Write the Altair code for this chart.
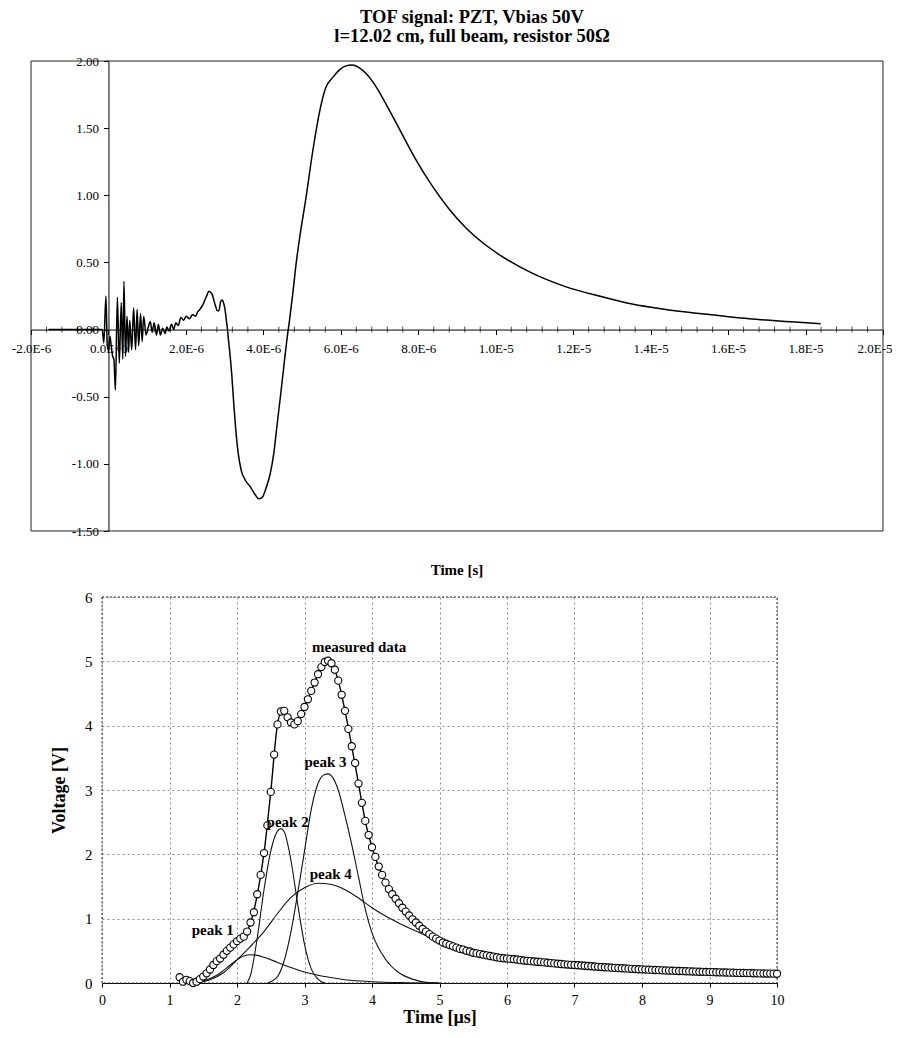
import altair as alt
import pandas as pd

FONT = "Liberation Serif"

# ---------------- top chart: TOF signal (time in microseconds, voltage in V)
tof_time_us = [
    -1.55, -0.5, -0.2, -0.16, -0.12, -0.065, -0.03, 0.0, 0.04, 0.07,
    0.11, 0.14, 0.18, 0.23, 0.28, 0.33, 0.37, 0.40, 0.44, 0.48,
    0.52, 0.55, 0.60, 0.65, 0.70, 0.74, 0.78, 0.83, 0.87, 0.91,
    0.97, 1.03, 1.08, 1.13, 1.18, 1.24, 1.29, 1.34, 1.40, 1.46,
    1.51, 1.56, 1.63, 1.68, 1.74, 1.80, 1.87, 1.94, 2.01, 2.09,
    2.17, 2.25, 2.30, 2.36, 2.43, 2.49, 2.55, 2.59, 2.63, 2.68,
    2.73, 2.77, 2.81, 2.85, 2.90, 2.94, 2.98, 3.01, 3.04, 3.07,
    3.10, 3.13, 3.18, 3.24, 3.28, 3.35, 3.43, 3.53, 3.66, 3.79,
    3.88, 3.97, 4.07, 4.18, 4.27, 4.35, 4.44, 4.53, 4.61, 4.68,
    4.76, 4.85, 4.93, 5.10, 5.26, 5.45, 5.61, 5.80, 5.95, 6.10,
    6.30, 6.45, 6.64, 6.85, 7.07, 7.50, 7.93, 8.36, 8.79, 9.22,
    9.65, 10.08, 10.94, 11.80, 12.66, 13.52, 14.39, 15.25, 16.54, 17.83,
    18.39,
]
tof_volt = [
    0.0, 0.0, 0.0, 0.0, -0.10, 0.25, -0.12, -0.15, -0.05, -0.12,
    -0.20, -0.22, -0.45, 0.24, -0.25, 0.20, -0.22, 0.36, -0.20, 0.10,
    -0.17, 0.07, -0.15, 0.16, -0.15, 0.15, -0.12, 0.12, -0.09, 0.10,
    -0.04, 0.02, 0.06, -0.02, 0.05, -0.04, 0.04, -0.04, 0.01, -0.03,
    0.02, -0.01, 0.04, 0.00, 0.05, 0.03, 0.09, 0.07, 0.10, 0.08,
    0.11, 0.10, 0.13, 0.15, 0.18, 0.22, 0.26, 0.285, 0.28, 0.26,
    0.21, 0.17, 0.14, 0.14, 0.21, 0.22, 0.19, 0.15, 0.08, 0.01,
    -0.08, -0.16, -0.32, -0.57, -0.72, -0.92, -1.05, -1.12, -1.17, -1.23,
    -1.26, -1.25, -1.18, -1.07, -0.92, -0.72, -0.50, -0.27, -0.07, 0.08,
    0.27, 0.50, 0.67, 0.98, 1.30, 1.62, 1.80, 1.88, 1.93, 1.96,
    1.97, 1.955, 1.91, 1.835, 1.73, 1.50, 1.27, 1.07, 0.90, 0.76,
    0.65, 0.56, 0.42, 0.32, 0.25, 0.19, 0.15, 0.12, 0.08, 0.055,
    0.043,
]
top_x_ticks_us = [-2, 0, 2, 4, 6, 8, 10, 12, 14, 16, 18, 20]
top_y_ticks = [-1.5, -1.0, -0.5, 0.0, 0.5, 1.0, 1.5, 2.0]
top_minor_us = [round(-2 + 0.4 * i, 2) for i in range(56) if i % 5 != 0]

# ---------------- bottom chart: peak decomposition
meas_start_us = 1.15
meas_step_us = 0.05
meas_volt = [
    0.09, 0.02, 0.05, 0.03, 0.00, 0.02, 0.06, 0.10, 0.15, 0.21, 0.28, 0.34, 0.38, 0.44, 0.50, 0.55, 0.60,
    0.65, 0.69, 0.72, 0.80, 0.94, 1.10, 1.38, 1.68, 2.02, 2.45, 2.97, 3.55, 4.02, 4.22, 4.23, 4.13, 4.05, 4.02, 4.07, 4.18,
    4.29, 4.41, 4.54, 4.67, 4.80, 4.91, 4.99, 5.01, 4.97, 4.87, 4.70, 4.48, 4.23, 3.95, 3.68, 3.42, 3.10, 2.80, 2.52, 2.30,
    2.11, 1.96, 1.81, 1.68, 1.56, 1.46, 1.38, 1.31, 1.24, 1.17, 1.11, 1.05, 0.99, 0.94, 0.89, 0.84, 0.80, 0.76, 0.72, 0.69,
    0.66, 0.63, 0.61, 0.59, 0.57, 0.55, 0.53, 0.52, 0.50, 0.49, 0.47, 0.46, 0.45, 0.44, 0.43, 0.42, 0.41, 0.40, 0.39, 0.385,
    0.38, 0.375, 0.37, 0.365, 0.355, 0.35, 0.345, 0.34, 0.335, 0.33, 0.325, 0.32, 0.315, 0.31, 0.305, 0.30, 0.295, 0.29, 0.287, 0.283,
    0.28, 0.276, 0.272, 0.268, 0.264, 0.26, 0.256, 0.252, 0.248, 0.245, 0.242, 0.238, 0.235, 0.232, 0.229, 0.226, 0.223, 0.22, 0.217, 0.214,
    0.212, 0.209, 0.207, 0.204, 0.202, 0.20, 0.197, 0.195, 0.193, 0.191, 0.189, 0.187, 0.185, 0.183, 0.181, 0.179, 0.177, 0.175, 0.174, 0.172,
    0.17, 0.169, 0.167, 0.166, 0.164, 0.163, 0.161, 0.16, 0.158, 0.157, 0.156, 0.154, 0.153, 0.152, 0.151, 0.149, 0.148, 0.147, 0.146, 0.145,
    0.144,
]
meas_time_us = [round(meas_start_us + meas_step_us * i, 2) for i in range(len(meas_volt))]

fit_time_us = [1.35, 1.5, 1.6, 1.7, 1.8, 1.9, 2.0, 2.1, 2.2, 2.3, 2.4, 2.5, 2.6, 2.65, 2.7, 2.75, 2.8, 2.85, 2.9,
               3.0, 3.1, 3.2, 3.3, 3.35, 3.4, 3.5, 3.6, 3.7, 3.8, 3.9, 4.0, 4.2, 4.4, 4.6, 4.8,
               5.0, 5.5, 6.0, 7.0, 8.0, 9.0, 10.0]
fit_volt = [0.0, 0.07, 0.16, 0.30, 0.44, 0.55, 0.65, 0.73, 0.93, 1.37, 2.02, 2.97, 4.02, 4.21, 4.22, 4.13, 4.05, 4.02, 4.07,
            4.29, 4.54, 4.80, 4.99, 5.01, 4.97, 4.70, 4.23, 3.68, 3.10, 2.52, 2.11, 1.56, 1.24, 0.99, 0.80,
            0.66, 0.47, 0.38, 0.28, 0.212, 0.17, 0.144]

peak1_time_us = [1.3, 1.5, 1.7, 1.9, 2.0, 2.1, 2.2, 2.3, 2.4, 2.6, 2.8, 3.0, 3.3, 3.6, 4.0, 4.5, 5.0]
peak1_volt = [0.0, 0.03, 0.12, 0.28, 0.36, 0.42, 0.44, 0.43, 0.40, 0.32, 0.24, 0.17, 0.10, 0.05, 0.02, 0.005, 0.0]

peak2_time_us = [2.15, 2.2, 2.3, 2.4, 2.5, 2.6, 2.65, 2.7, 2.8, 2.9, 3.0, 3.1, 3.2, 3.3]
peak2_volt = [0.0, 0.12, 0.70, 1.45, 2.05, 2.36, 2.40, 2.35, 1.90, 1.22, 0.60, 0.22, 0.06, 0.0]

peak3_time_us = [2.45, 2.6, 2.7, 2.8, 2.9, 3.0, 3.1, 3.2, 3.3, 3.35, 3.4, 3.5, 3.6, 3.7, 3.8, 3.9, 4.0, 4.2, 4.4, 4.6, 4.8, 5.0]
peak3_volt = [0.0, 0.1, 0.35, 0.8, 1.4, 2.05, 2.7, 3.1, 3.24, 3.25, 3.22, 3.0, 2.6, 2.15, 1.65, 1.15, 0.78, 0.37, 0.16, 0.06, 0.01, 0.0]

peak4_time_us = [1.4, 1.6, 1.8, 2.0, 2.2, 2.4, 2.6, 2.8, 3.0, 3.2, 3.4, 3.6, 3.8, 4.0, 4.2, 4.4, 4.6, 4.8, 5.0,
                 5.5, 6.0, 6.5, 7.0, 7.5, 8.0, 8.5, 9.0, 9.5, 10.0]
peak4_volt = [0.0, 0.05, 0.16, 0.36, 0.57, 0.80, 1.08, 1.33, 1.48, 1.55, 1.53, 1.45, 1.32, 1.17, 1.04, 0.93, 0.83, 0.74, 0.64,
              0.46, 0.37, 0.31, 0.265, 0.23, 0.20, 0.18, 0.16, 0.15, 0.14]

label_text = ["measured data", "peak 1", "peak 2", "peak 3", "peak 4"]
label_time_us = [3.81, 1.64, 2.75, 3.31, 3.39]
label_volt = [5.22, 0.83, 2.50, 3.43, 1.70]

bottom_x_ticks = list(range(0, 11))
bottom_y_ticks = list(range(0, 7))

# ---------------- top chart
TOP_X = [-2, 20]
TOP_Y = [-1.5, 2.0]
TW, TH = 852, 470
x_axis_offset = -TH * (0 - TOP_Y[0]) / (TOP_Y[1] - TOP_Y[0])
y_axis_offset = -TW * (0 - TOP_X[0]) / (TOP_X[1] - TOP_X[0])

xs_top = alt.Scale(domain=TOP_X, nice=False, zero=False)
ys_top = alt.Scale(domain=TOP_Y, nice=False, zero=False)

last_tick_test = "datum.value >= 20"
x_axis_top = alt.Axis(
    values=top_x_ticks_us,
    labelExpr="replace(replace(format(datum.value*1e-6, '.1e'), 'e', 'E'), '\u2212', '-')",
    offset=x_axis_offset, title=None, grid=False,
    domainColor="black", domainWidth=1, tickColor="black", tickSize=5, tickWidth=1,
    labelFont=FONT, labelFontSize=13, labelColor="black", labelPadding=8,
    labelFlush=False, labelOverlap=False,
    labelAlign={"condition": {"test": last_tick_test, "value": "right"}, "value": "center"},
    labelOffset={"condition": {"test": last_tick_test, "value": 9}, "value": 0},
)
y_axis_top = alt.Axis(
    values=top_y_ticks,
    labelExpr="replace(format(datum.value, '.2f'), '\u2212', '-')",
    offset=y_axis_offset, title=None, grid=False,
    domainColor="black", domainWidth=1, tickColor="black", tickSize=5, tickWidth=1,
    labelFont=FONT, labelFontSize=13, labelColor="black", labelPadding=5,
    labelFlush=False, labelOverlap=False,
)

df_top = pd.DataFrame({"t": tof_time_us, "v": tof_volt})
df_top_frame = pd.DataFrame({"t": [TOP_X[0]], "t2": [TOP_X[1]], "v": [TOP_Y[0]], "v2": [TOP_Y[1]]})
df_minor = pd.DataFrame({"t": top_minor_us})

top_frame = alt.Chart(df_top_frame).mark_rect(fill="white", fillOpacity=0, stroke="#222", strokeWidth=1).encode(
    x=alt.X("t:Q", scale=xs_top, axis=x_axis_top), x2="t2:Q",
    y=alt.Y("v:Q", scale=ys_top, axis=y_axis_top), y2="v2:Q",
)
top_minor = alt.Chart(df_minor).mark_tick(orient="vertical", color="black", size=6, thickness=1).encode(
    x=alt.X("t:Q", scale=xs_top, axis=x_axis_top),
    y=alt.YDatum(0, scale=ys_top, axis=y_axis_top),
)
top_line = alt.Chart(df_top).mark_line(color="black", strokeWidth=1.5, interpolate="monotone").encode(
    x=alt.X("t:Q", scale=xs_top, axis=x_axis_top),
    y=alt.Y("v:Q", scale=ys_top, axis=y_axis_top),
)
top_xtitle = alt.Chart(pd.DataFrame({"txt": ["Time [s]"]})).mark_text(
    font=FONT, fontSize=15, fontWeight="bold", color="black", baseline="middle", align="center"
).encode(text="txt:N", x=alt.value(426), y=alt.value(509))

top = alt.layer(top_frame, top_minor, top_line, top_xtitle).properties(
    width=TW, height=TH,
    title=alt.TitleParams(
        ["TOF signal: PZT, Vbias 50V", "l=12.02 cm, full beam, resistor 50\u03a9"],
        font=FONT, fontSize=18.5, fontWeight="bold", color="black",
        anchor="middle", dx=15, offset=10, lineHeight=19,
    ),
)

# ---------------- bottom chart
BX = [0, 10]
BY = [0, 6]
BW, BH = 746, 386
B_LEFT = 71
xs_b = alt.Scale(domain=BX, range=[B_LEFT, BW], nice=False, zero=False)
ys_b = alt.Scale(domain=BY, nice=False, zero=False)

x_axis_b = alt.Axis(
    values=bottom_x_ticks, format="d", grid=True, gridColor="#8c8c8c", gridDash=[2, 3], gridWidth=1,
    domainColor="black", domainWidth=1.2, tickColor="black", tickSize=4,
    labelFont=FONT, labelFontSize=14, labelColor="black", labelPadding=6, labelFlush=False,
    title="Time [\u00b5s]", titleFont=FONT, titleFontSize=18, titleFontWeight="bold", titleColor="black",
    titlePadding=1,
)
y_axis_b = alt.Axis(
    values=bottom_y_ticks, format="d", offset=-B_LEFT, grid=True, gridColor="#8c8c8c", gridDash=[2, 3],
    gridWidth=1, domain=False, ticks=False,
    labelFont=FONT, labelFontSize=15, labelColor="black", labelPadding=10, labelFlush=False,
    title="Voltage [V]", titleFont=FONT, titleFontSize=18, titleFontWeight="bold", titleColor="black",
    titlePadding=16,
)

df_b_frame = pd.DataFrame({"t": [BX[0]], "t2": [BX[1]], "v": [BY[0]], "v2": [BY[1]]})
df_meas = pd.DataFrame({"t": meas_time_us, "v": meas_volt})
df_fit = pd.DataFrame({"t": fit_time_us, "v": fit_volt})
df_peaks = pd.concat([
    pd.DataFrame({"t": peak1_time_us, "v": peak1_volt, "s": "peak 1"}),
    pd.DataFrame({"t": peak2_time_us, "v": peak2_volt, "s": "peak 2"}),
    pd.DataFrame({"t": peak3_time_us, "v": peak3_volt, "s": "peak 3"}),
    pd.DataFrame({"t": peak4_time_us, "v": peak4_volt, "s": "peak 4"}),
], ignore_index=True)
df_labels = pd.DataFrame({"t": label_time_us, "v": label_volt, "txt": label_text})

bx = alt.X("t:Q", scale=xs_b, axis=x_axis_b)
by = alt.Y("v:Q", scale=ys_b, axis=y_axis_b)

b_frame = alt.Chart(df_b_frame).mark_rect(
    fill="white", fillOpacity=0, stroke="#333", strokeWidth=1, strokeDash=[2, 2]
).encode(x=bx, x2="t2:Q", y=by, y2="v2:Q")
b_peaks = alt.Chart(df_peaks).mark_line(color="#111", strokeWidth=1.1, interpolate="monotone").encode(
    x=bx, y=by, detail="s:N")
b_fit = alt.Chart(df_fit).mark_line(color="black", strokeWidth=1.4, interpolate="monotone").encode(x=bx, y=by)
b_meas = alt.Chart(df_meas).mark_point(
    shape="circle", size=52, filled=True, fill="white", stroke="black", strokeWidth=1.1, opacity=1
).encode(x=bx, y=by)
b_labels = alt.Chart(df_labels).mark_text(
    font=FONT, fontSize=15, fontWeight="bold", color="black", align="center", baseline="middle"
).encode(x=bx, y=by, text="txt:N")

bottom = alt.layer(b_frame, b_peaks, b_fit, b_meas, b_labels).properties(width=BW, height=BH)

chart = alt.vconcat(top, bottom, spacing=66, bounds="flush").properties(
    padding={"left": 3, "top": -1, "right": 0, "bottom": 0}
).configure(font=FONT, background="white").configure_view(stroke=None)

chart.save("out.html", embed_options={"renderer": "svg", "actions": False})
